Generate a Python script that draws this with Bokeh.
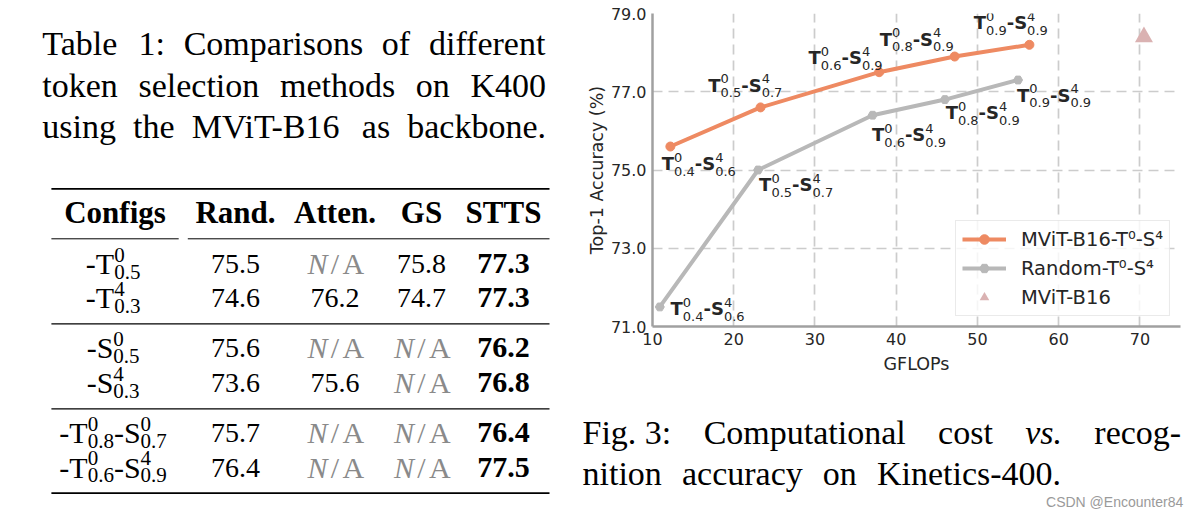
from bokeh.plotting import figure
from bokeh.layouts import row, column
from bokeh.models import (Range1d, ColumnDataSource, FixedTicker, PrintfTickFormatter,
                          Legend, LegendItem)
from bokeh.core.properties import value
from bokeh.embed import file_html
from bokeh.resources import INLINE

# ---------------- data ----------------
table_headers = ["Configs", "Rand.", "Atten.", "GS", "STTS"]
config_parts = [
    [("T", "0", "0.5")],
    [("T", "4", "0.3")],
    [("S", "0", "0.5")],
    [("S", "4", "0.3")],
    [("T", "0", "0.8"), ("S", "0", "0.7")],
    [("T", "0", "0.6"), ("S", "4", "0.9")],
]
rand_acc = [75.5, 74.6, 75.6, 73.6, 75.7, 76.4]
atten_acc = [None, 76.2, None, 75.6, None, None]
gs_acc = [75.8, 74.7, None, None, None, None]
stts_acc = [77.3, 77.3, 76.2, 76.8, 76.4, 77.5]

sel_gflops = [12.2, 23.3, 37.9, 47.2, 56.4]
sel_acc = [75.6, 76.6, 77.5, 77.9, 78.2]
rand_gflops = [10.9, 23.0, 37.1, 46.0, 55.0]
rand_curve_acc = [71.5, 75.0, 76.4, 76.8, 77.3]
base_gflops = [70.5]
base_acc = [78.4]
t_keep = ["0.4", "0.5", "0.6", "0.8", "0.9"]
s_keep = ["0.6", "0.7", "0.9", "0.9", "0.9"]
x_ticks = [10, 20, 30, 40, 50, 60, 70]
y_ticks = [71, 73, 75, 77, 79]
legend_labels = ["MViT-B16-T\u2070-S\u2074", "Random-T\u2070-S\u2074", "MViT-B16"]

table_caption = ["Table 1: Comparisons of different",
                 "token selection methods on K400",
                 "using the MViT-B16 as backbone."]
fig_caption = [
    [("Fig. 3:", "normal"), ("Computational", "normal"), ("cost", "normal"),
     ("vs.", "italic"), ("recog-", "normal")],
    [("nition", "normal"), ("accuracy", "normal"), ("on", "normal"),
     ("Kinetics-400.", "normal")],
]
watermark = "CSDN @Encounter84"

# ---------------- styles ----------------
ORANGE = "#ee8a62"
GREY = "#b8b8b8"
PINK = "#dab2b2"
SERIF = "Liberation Serif"
SANS = "DejaVu Sans"
INK = "#262626"

# label offsets (px) from point to the label's left/baseline (y down)
sel_dx = [-8.6, -52.3, -70.6, -75.0, -55.7]
sel_dy = [23.3, -16.0, -8.4, -11.0, -16.0]
rand_dx = [10.7, 1.0, -0.7, 0.7, -1.0]
rand_dy = [7.7, 21.0, 25.7, 19.3, 21.3]

# glyph advance widths (1/1000 em)
SERIF_R = {" ": 250, ".": 250, ",": 250, ":": 278, "-": 333, "/": 278}
SERIF_R.update({d: 500 for d in "0123456789"})
SERIF_R.update(dict(a=444, b=500, c=444, d=500, e=444, f=333, g=500, h=500, i=278, j=278,
                    k=500, l=278, m=778, n=500, o=500, p=500, q=500, r=333, s=389, t=278,
                    u=500, v=500, w=722, x=500, y=500, z=444))
SERIF_R.update(dict(A=722, B=667, C=667, D=722, E=611, F=556, G=722, H=722, I=333, K=722,
                    M=889, N=722, S=556, T=611, V=722))
SERIF_I = dict(SERIF_R)
SERIF_I.update(v=444, s=389, N=667)
SANS_R = {d: 636 for d in "0123456789"}
SANS_R["."] = 318
SANS_B = {"T": 683, "S": 720, "-": 415}
# vertical shift (em) that puts the drawn text on the intended baseline
BASE_FIX = {SERIF: 0.34, SANS: 0.35, "Liberation Sans": 0.35}


def tw(s, table, size):
    return sum(table.get(c, 500) for c in s) / 1000.0 * size


class TextBatch:
    def __init__(self):
        self.groups = {}

    def add(self, x, y, text, font, size, style="normal", color="#000000",
            align="left", dx=0.0, dy=0.0):
        key = (font, size, style, color, align)
        g = self.groups.setdefault(key, dict(x=[], y=[], text=[], dx=[], dy=[]))
        g["x"].append(x)
        g["y"].append(y)
        g["text"].append(text)
        g["dx"].append(dx)
        g["dy"].append(dy - BASE_FIX.get(font, 0.34) * size)

    def draw(self, fig):
        for (font, size, style, color, align), g in self.groups.items():
            fig.text(x="x", y="y", text="text", x_offset="dx", y_offset="dy",
                     source=ColumnDataSource(g), text_font=value(font),
                     text_font_size=value(f"{size}px"), text_font_style=style,
                     text_color=color, text_align=align, text_baseline="alphabetic")


def justify(batch, words, x0, x1, y, size):
    widths = [tw(t, SERIF_I if st == "italic" else SERIF_R, size) for t, st in words]
    gap = (x1 - x0 - sum(widths)) / (len(words) - 1)
    x = x0
    for (t, st), w in zip(words, widths):
        batch.add(x, y, t, SERIF, size, style=st)
        x += w + gap


def blank_fig(w, h, xr, yr):
    f = figure(width=w, height=h, x_range=Range1d(*xr), y_range=Range1d(*yr),
               output_backend="svg", toolbar_location=None, min_border=0,
               x_axis_location=None, y_axis_location=None)
    f.grid.grid_line_color = None
    f.outline_line_color = None
    f.background_fill_color = "white"
    f.border_fill_color = "white"
    return f


# ================= table (left) =================
tf = blank_fig(580, 516, (0, 580), (516, 0))
tb = TextBatch()

CAP_SIZE = 34
cap_base = [55.0, 96.5, 138.0]
for line, yb in zip(table_caption, cap_base):
    justify(tb, [(w, "normal") for w in line.split(" ")], 41.8, 545.5, yb, CAP_SIZE)

rule_y = [188.3, 323.3, 408.3, 492.7]
rule_w = [1.8, 1.2, 1.2, 1.8]
tf.segment(x0=[50.9] * 4, y0=rule_y, x1=[549.0] * 4, y1=rule_y,
           line_width=rule_w, line_color="#000000")
tf.segment(x0=[50.9, 187.3], y0=[238.3, 238.3], x1=[178.2, 549.0], y1=[238.3, 238.3],
           line_width=1.0, line_color="#000000")

col_x = [114.5, 235.0, 334.5, 421.0, 503.0]
head_base = 222.5
for h, cx in zip(table_headers, col_x):
    tb.add(cx, head_base, h, SERIF, 31, style="bold", align="center")

row_base = [273.3, 307.3, 357.3, 392.3, 442.3, 476.7]
NA_GREY = "#8a8a8a"


def na_cell(cx, yb):
    tb.add(cx - 7.5, yb, "N", SERIF, 30, style="italic", color=NA_GREY, align="right")
    tb.add(cx, yb, "/", SERIF, 30, color=NA_GREY, align="center")
    tb.add(cx + 7.5, yb, "A", SERIF, 30, color=NA_GREY, align="left")


def cfg_label(parts, cx, yb, main=30, small=21):
    pieces = []
    x = 0.0
    for letter, sup, sub in parts:
        t = "-" + letter
        pieces.append((t, x, 0.0, main))
        x += tw(t, SERIF_R, main)
        pieces.append((sup, x, -12.0, small))
        pieces.append((sub, x, 5.0, small))
        x += max(tw(sup, SERIF_R, small), tw(sub, SERIF_R, small))
    x0 = cx - x / 2.0
    for t, ox, oy, sz in pieces:
        tb.add(x0 + ox, yb + oy, t, SERIF, sz)


for i, yb in enumerate(row_base):
    cfg_label(config_parts[i], 112.6, yb)
    for vals, cx in ((rand_acc, col_x[1]), (atten_acc, col_x[2]), (gs_acc, col_x[3])):
        v = vals[i]
        if v is None:
            na_cell(cx, yb)
        else:
            tb.add(cx, yb, f"{v:.1f}", SERIF, 28, align="center")
    tb.add(col_x[4], yb, f"{stts_acc[i]:.1f}", SERIF, 30, style="bold", align="center")

tb.draw(tf)

# ================= chart (right top) =================
p = figure(width=618, height=384, x_range=Range1d(10, 75), y_range=Range1d(71, 79),
           output_backend="svg", toolbar_location=None,
           min_border_left=72, min_border_right=18, min_border_top=13, min_border_bottom=58)
p.outline_line_color = None
p.background_fill_color = "white"
p.border_fill_color = "white"

p.xaxis.ticker = FixedTicker(ticks=x_ticks)
p.yaxis.ticker = FixedTicker(ticks=y_ticks)
p.yaxis.formatter = PrintfTickFormatter(format="%.1f")
p.xaxis.axis_label = "GFLOPs"
p.yaxis.axis_label = "Top-1 Accuracy (%)"
for ax in (p.xaxis[0], p.yaxis[0]):
    ax.axis_line_color = "#a0a0a0"
    ax.axis_line_width = 2.5
    ax.major_tick_line_color = None
    ax.minor_tick_line_color = None
    ax.major_tick_out = 0
    ax.major_tick_in = 0
    ax.major_label_text_font = SANS
    ax.major_label_text_font_size = "16px"
    ax.major_label_text_color = INK
    ax.major_label_standoff = 6
    ax.axis_label_text_font = SANS
    ax.axis_label_text_font_size = "17.5px"
    ax.axis_label_text_font_style = "normal"
    ax.axis_label_text_color = INK
p.xaxis.axis_label_standoff = 6
p.yaxis.axis_label_standoff = 1

for g in (p.xgrid[0], p.ygrid[0]):
    g.grid_line_color = "#cccccc"
    g.grid_line_width = 1.7
    g.grid_line_dash = "10 6"

r_sel_line = p.line(sel_gflops, sel_acc, line_color=ORANGE, line_width=4)
r_sel_pts = p.scatter(sel_gflops, sel_acc, marker="circle", size=9,
                      fill_color=ORANGE, line_color=ORANGE)
r_rand_line = p.line(rand_gflops, rand_curve_acc, line_color=GREY, line_width=4)
r_rand_pts = p.scatter(rand_gflops, rand_curve_acc, marker="hex", size=9,
                       fill_color=GREY, line_color=GREY)
r_base = p.scatter(base_gflops, base_acc, marker="triangle", size=18,
                   fill_color=PINK, line_color=None)

# point labels  T^a_b - S^c_d
cb = TextBatch()
MAIN, SMALL = 18, 13
SUP_DY, SUB_DY = -8.0, 6.0
wT = tw("T", SANS_B, MAIN)
wS = tw("-S", SANS_B, MAIN)
for xs, ys, dxs, dys in ((sel_gflops, sel_acc, sel_dx, sel_dy),
                         (rand_gflops, rand_curve_acc, rand_dx, rand_dy)):
    for i in range(len(xs)):
        x, y, dx, dy = xs[i], ys[i], dxs[i], dys[i]
        w1 = max(tw("0", SANS_R, SMALL), tw(t_keep[i], SANS_R, SMALL))
        cb.add(x, y, "T", SANS, MAIN, style="bold", color=INK, dx=dx, dy=dy)
        cb.add(x, y, "0", SANS, SMALL, color=INK, dx=dx + wT, dy=dy + SUP_DY)
        cb.add(x, y, t_keep[i], SANS, SMALL, color=INK, dx=dx + wT, dy=dy + SUB_DY)
        x2 = dx + wT + w1
        cb.add(x, y, "-S", SANS, MAIN, style="bold", color=INK, dx=x2, dy=dy)
        cb.add(x, y, "4", SANS, SMALL, color=INK, dx=x2 + wS, dy=dy + SUP_DY)
        cb.add(x, y, s_keep[i], SANS, SMALL, color=INK, dx=x2 + wS, dy=dy + SUB_DY)
cb.draw(p)

legend = Legend(items=[
    LegendItem(label=legend_labels[0], renderers=[r_sel_line, r_sel_pts]),
    LegendItem(label=legend_labels[1], renderers=[r_rand_line, r_rand_pts]),
    LegendItem(label=legend_labels[2], renderers=[r_base]),
], location="bottom_right")
legend.label_text_font = SANS
legend.label_text_font_size = "19.5px"
legend.label_text_color = INK
legend.glyph_width = 44
legend.glyph_height = 24
legend.label_height = 24
legend.spacing = 5
legend.padding = 6
legend.label_standoff = 15
legend.margin = 10
legend.border_line_color = "#d6d6d6"
legend.border_line_width = 1
legend.background_fill_alpha = 0.8
p.add_layout(legend)

# ================= caption (right bottom) =================
cf = blank_fig(618, 132, (580, 1198), (516, 384))
fb = TextBatch()
FIG_SIZE = 34
justify(fb, fig_caption[0], 582.0, 1180.7, 443.3, FIG_SIZE)
justify(fb, fig_caption[1], 582.0, 1060.6, 484.3, FIG_SIZE)
fb.add(1182.7, 506.0, watermark, "Liberation Sans", 14, color="#9a9a9a", align="right")
fb.draw(cf)

layout = row(tf, column(p, column(cf)))
open("out.html", "w").write(file_html(layout, INLINE))
